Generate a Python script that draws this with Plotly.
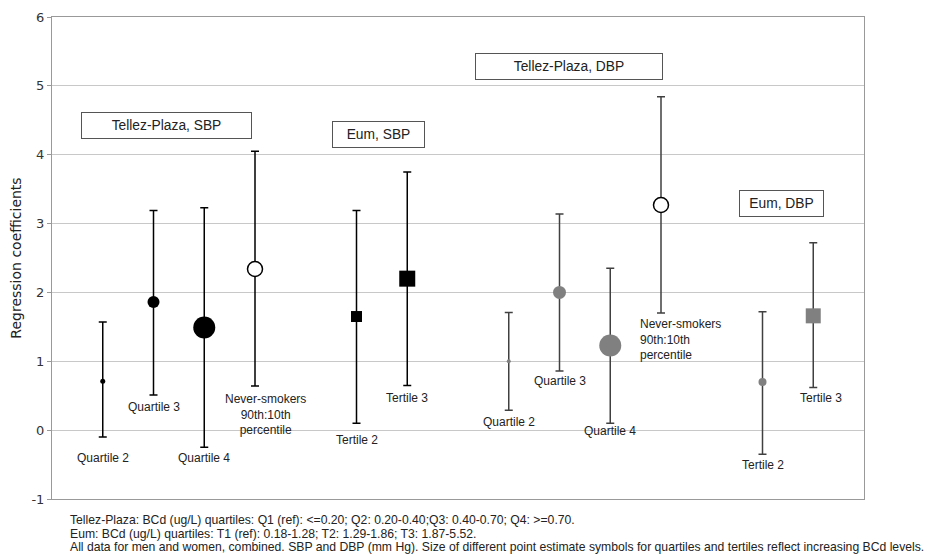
import plotly.graph_objects as go

# ---- data ----
sbp_labels = ["Quartile 2", "Quartile 3", "Quartile 4", "Never-smokers<br>90th:10th<br>percentile", "Tertile 2", "Tertile 3"]
sbp_slot = [1, 2, 3, 4, 6, 7]
sbp_est = [0.71, 1.86, 1.49, 2.34, 1.65, 2.20]
sbp_lo = [-0.10, 0.51, -0.25, 0.64, 0.10, 0.65]
sbp_hi = [1.57, 3.19, 3.23, 4.05, 3.19, 3.75]

dbp_labels = ["Quartile 2", "Quartile 3", "Quartile 4", "Never-smokers<br>90th:10th<br>percentile", "Tertile 2", "Tertile 3"]
dbp_slot = [9, 10, 11, 12, 14, 15]
dbp_est = [1.00, 2.00, 1.23, 3.27, 0.70, 1.66]
dbp_lo = [0.29, 0.86, 0.10, 1.70, -0.35, 0.62]
dbp_hi = [1.71, 3.14, 2.35, 4.84, 1.72, 2.72]

group_titles = ["Tellez-Plaza, SBP", "Eum, SBP", "Tellez-Plaza, DBP", "Eum, DBP"]
y_ticks = [-1, 0, 1, 2, 3, 4, 5, 6]
y_tick_text = ["-1", "0", "1", "2", "3", "4", "5", "6"]

footnote_lines = [
    "Tellez-Plaza: BCd (ug/L) quartiles: Q1 (ref): <=0.20; Q2: 0.20-0.40;Q3: 0.40-0.70; Q4: >=0.70.",
    "Eum: BCd (ug/L) quartiles: T1 (ref): 0.18-1.28; T2: 1.29-1.86; T3: 1.87-5.52.",
    "All data for men and women, combined. SBP and DBP (mm Hg). Size of different point estimate symbols for quartiles and tertiles reflect increasing BCd levels.",
]

# ---- styles ----
sbp_sizes = [5, 12, 22, 15, 11, 16]
sbp_symbols = ["circle", "circle", "circle", "circle", "square", "square"]
sbp_fill = ["#000000", "#000000", "#000000", "#ffffff", "#000000", "#000000"]
sbp_lw = [0, 0, 0, 1.5, 0, 0]

dbp_sizes = [4, 13, 22, 15, 8, 15]
dbp_symbols = ["circle", "circle", "circle", "circle", "circle", "square"]
dbp_fill = ["#808080", "#808080", "#808080", "#ffffff", "#808080", "#808080"]
dbp_lw = [0, 0, 0, 1.5, 0, 0]

# figure sized for the 8px default page margin of the browser
W, H = 929, 551
ML, MR, MT, MB = 44, 73, 9, 60
plot_h = H - MT - MB

fig = go.Figure()

def add_group(slot, est, lo, hi, sizes, symbols, fill, lw, barcolor):
    fig.add_trace(go.Scatter(
        x=slot, y=est, mode="markers",
        marker=dict(size=sizes, symbol=symbols, color=fill, opacity=1,
                    line=dict(width=lw, color="#000000")),
        error_y=dict(type="data", symmetric=False,
                     array=[h - e for h, e in zip(hi, est)],
                     arrayminus=[e - l for e, l in zip(est, lo)],
                     color=barcolor, thickness=1.5, width=4),
        showlegend=False, hoverinfo="skip"))

add_group(sbp_slot, sbp_est, sbp_lo, sbp_hi, sbp_sizes, sbp_symbols, sbp_fill, sbp_lw, "#000000")
add_group(dbp_slot, dbp_est, dbp_lo, dbp_hi, dbp_sizes, dbp_symbols, dbp_fill, dbp_lw, "#404040")

lab_font = dict(family="Liberation Sans, Arial", size=12, color="#222")
sbp_lab_pos = [(1, -0.41, "center"), (2, 0.33, "center"), (3, -0.41, "center"),
               (4.2, 0.23, "center"), (6, -0.15, "center"), (7, 0.46, "center")]
dbp_lab_pos = [(9, 0.12, "center"), (10, 0.71, "center"), (11, -0.01, "center"),
               (11.55, 1.32, "left"), (14, -0.50, "center"), (15.15, 0.46, "center")]
for labs, pos in ((sbp_labels, sbp_lab_pos), (dbp_labels, dbp_lab_pos)):
    for t, (x, y, a) in zip(labs, pos):
        fig.add_annotation(x=x, y=y, text=t, showarrow=False, xanchor=a,
                           yanchor="middle", align=a, font=lab_font)

box_pos = [(2.25, 4.42, 171), (6.43, 4.30, 93), (10.19, 5.28, 188), (14.38, 3.29, 85)]
for t, (x, y, w) in zip(group_titles, box_pos):
    fig.add_annotation(x=x, y=y, text=t, showarrow=False, width=w - 4, height=23,
                       bordercolor="#555", borderwidth=1, borderpad=1,
                       bgcolor="white",
                       font=dict(family="Liberation Sans, Arial", size=13.8, color="#222"))

foot_y_px = [21, 35, 48]  # px below plot bottom
for t, dy in zip(footnote_lines, foot_y_px):
    fig.add_annotation(xref="paper", yref="paper", x=16 / 812, y=-dy / plot_h,
                       xanchor="left", yanchor="middle", align="left", showarrow=False,
                       text=t, font=dict(family="Liberation Sans, Arial", size=12.2, color="#222"))

fig.update_layout(
    width=W, height=H,
    margin=dict(l=ML, r=MR, t=MT, b=MB, autoexpand=False),
    paper_bgcolor="white", plot_bgcolor="white",
    font=dict(family="DejaVu Sans", color="#222"),
)
fig.update_xaxes(range=[0, 16], showticklabels=False, showgrid=False, zeroline=False,
                 showline=True, linecolor="#999", linewidth=1, mirror=True, ticks="",
                 automargin=False)
fig.update_yaxes(range=[-1, 6], tickvals=y_ticks, ticktext=y_tick_text, showgrid=True,
                 gridcolor="#c8c8c8",
                 zeroline=False, showline=True, linecolor="#999", linewidth=1, mirror=True,
                 ticks="outside", ticklen=4, tickcolor="#999", automargin=False,
                 tickfont=dict(size=13, family="DejaVu Sans", color="#333"),
                 title=dict(text="Regression coefficients", standoff=8,
                            font=dict(size=14, family="DejaVu Sans", color="#222")))

fig.write_html("out.html")
